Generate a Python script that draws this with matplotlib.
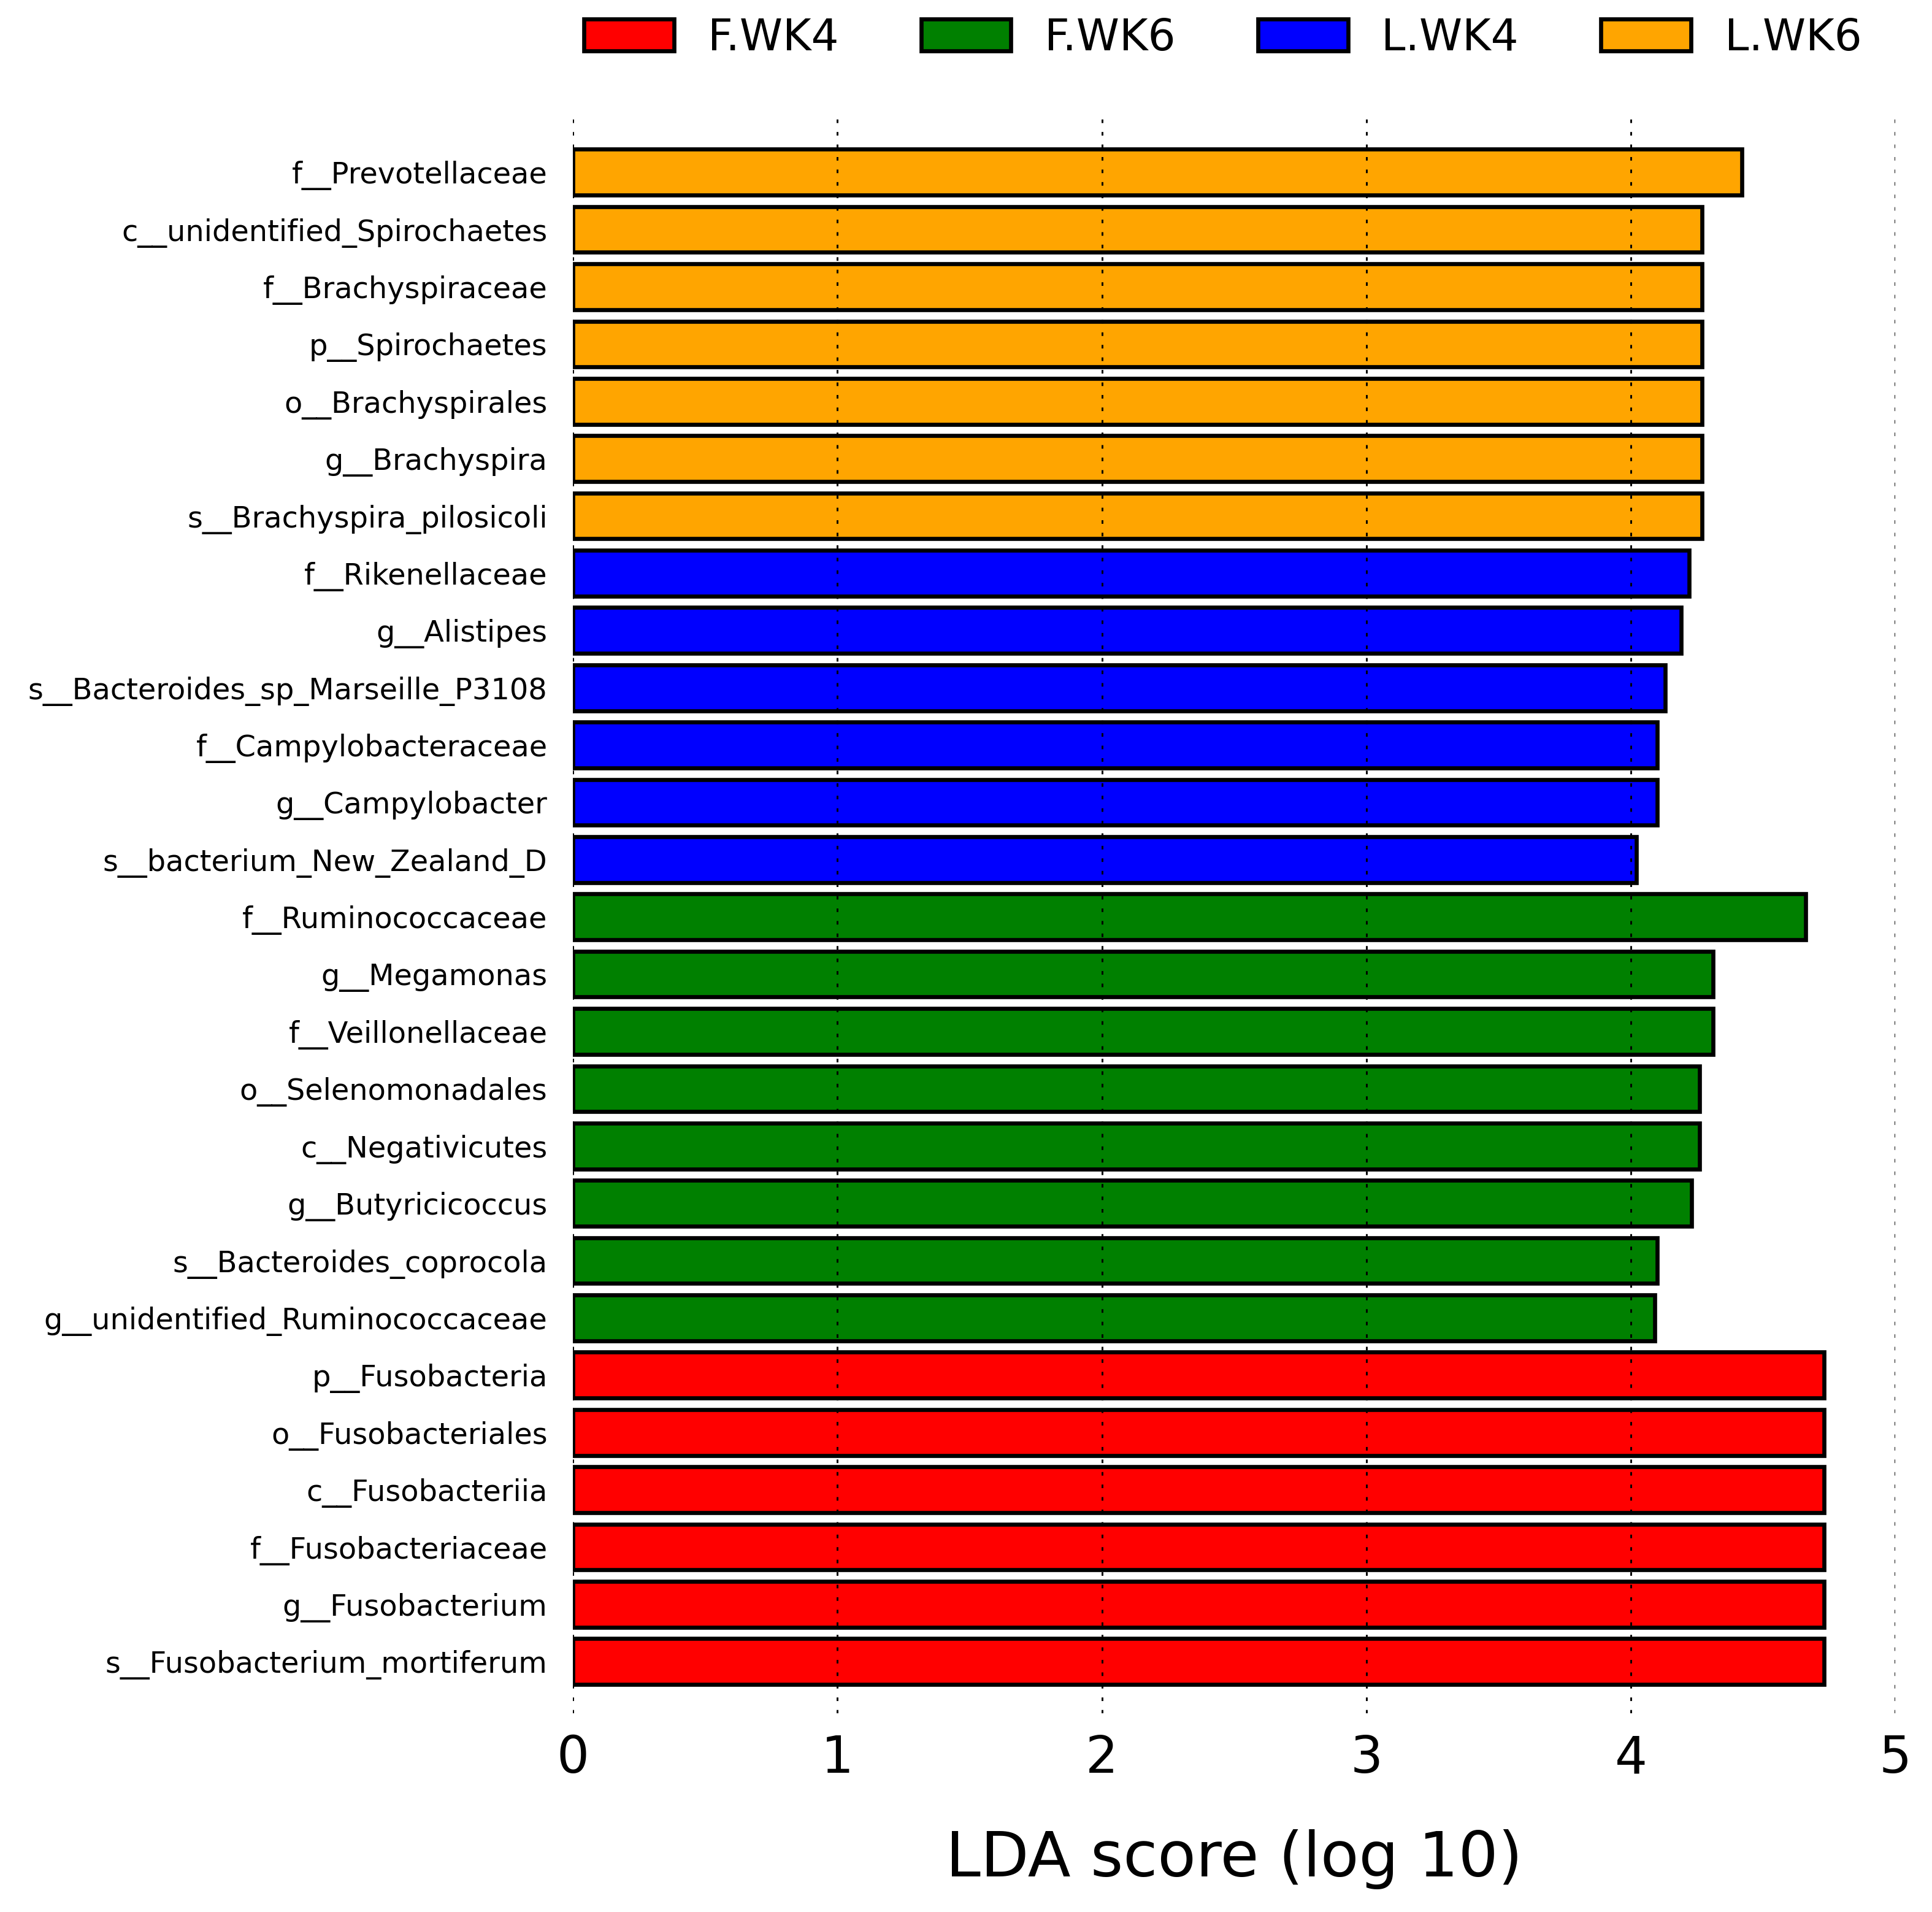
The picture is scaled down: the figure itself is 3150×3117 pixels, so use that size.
import matplotlib
matplotlib.use("Agg")
import matplotlib.pyplot as plt
from matplotlib.patches import Patch

# taxa from top to bottom, as in the picture
taxa = [
    "f__Prevotellaceae", "c__unidentified_Spirochaetes", "f__Brachyspiraceae",
    "p__Spirochaetes", "o__Brachyspirales", "g__Brachyspira",
    "s__Brachyspira_pilosicoli",
    "f__Rikenellaceae", "g__Alistipes", "s__Bacteroides_sp_Marseille_P3108",
    "f__Campylobacteraceae", "g__Campylobacter", "s__bacterium_New_Zealand_D",
    "f__Ruminococcaceae", "g__Megamonas", "f__Veillonellaceae",
    "o__Selenomonadales", "c__Negativicutes", "g__Butyricicoccus",
    "s__Bacteroides_coprocola", "g__unidentified_Ruminococcaceae",
    "p__Fusobacteria", "o__Fusobacteriales", "c__Fusobacteriia",
    "f__Fusobacteriaceae", "g__Fusobacterium", "s__Fusobacterium_mortiferum",
]
lda = [
    4.42, 4.27, 4.27, 4.27, 4.27, 4.27, 4.27,
    4.22, 4.19, 4.13, 4.10, 4.10, 4.02,
    4.66, 4.31, 4.31, 4.26, 4.26, 4.23, 4.10, 4.09,
    4.73, 4.73, 4.73, 4.73, 4.73, 4.73,
]
group = ["L.WK6"] * 7 + ["L.WK4"] * 6 + ["F.WK6"] * 8 + ["F.WK4"] * 6

groups = ["F.WK4", "F.WK6", "L.WK4", "L.WK6"]
colors = {"F.WK4": "#FF0000", "F.WK6": "#008000", "L.WK4": "#0000FF", "L.WK6": "#FFA500"}

fig = plt.figure(figsize=(10.5, 10.39), dpi=300)
ax = fig.add_axes([0.2966, 0.104, 0.6844, 0.835])

n = len(taxa)
ypos = [n - 1 - i for i in range(n)]
ax.barh(ypos, lda, height=0.8, color=[colors[g] for g in group],
        edgecolor="black", linewidth=1.6, zorder=1)

ax.set_xlim(0, 5)
ax.set_ylim(-0.9, n - 1 + 0.97)
ax.set_yticks(ypos)
ax.set_yticklabels(taxa, fontsize=11.5)
ax.set_xticks(range(6))
ax.tick_params(axis="x", length=0, pad=8, labelsize=20)
ax.tick_params(axis="y", length=0, pad=10)
ax.xaxis.grid(True, linestyle=(0, (2, 5)), color="black", linewidth=0.7, zorder=2)
ax.set_axisbelow(False)
for s in ax.spines.values():
    s.set_visible(False)
ax.set_xlabel("LDA score (log 10)", fontsize=24.5, labelpad=18)

handles = [Patch(facecolor=colors[g], edgecolor="black", linewidth=1.6, label=g) for g in groups]
fig.legend(handles=handles, loc="center", bbox_to_anchor=(0.633, 0.98), ncol=4,
           frameon=False, fontsize=17, handlelength=2.07, handleheight=0.75,
           columnspacing=1.9, handletextpad=0.77)

fig.savefig("out.png", dpi=300)
